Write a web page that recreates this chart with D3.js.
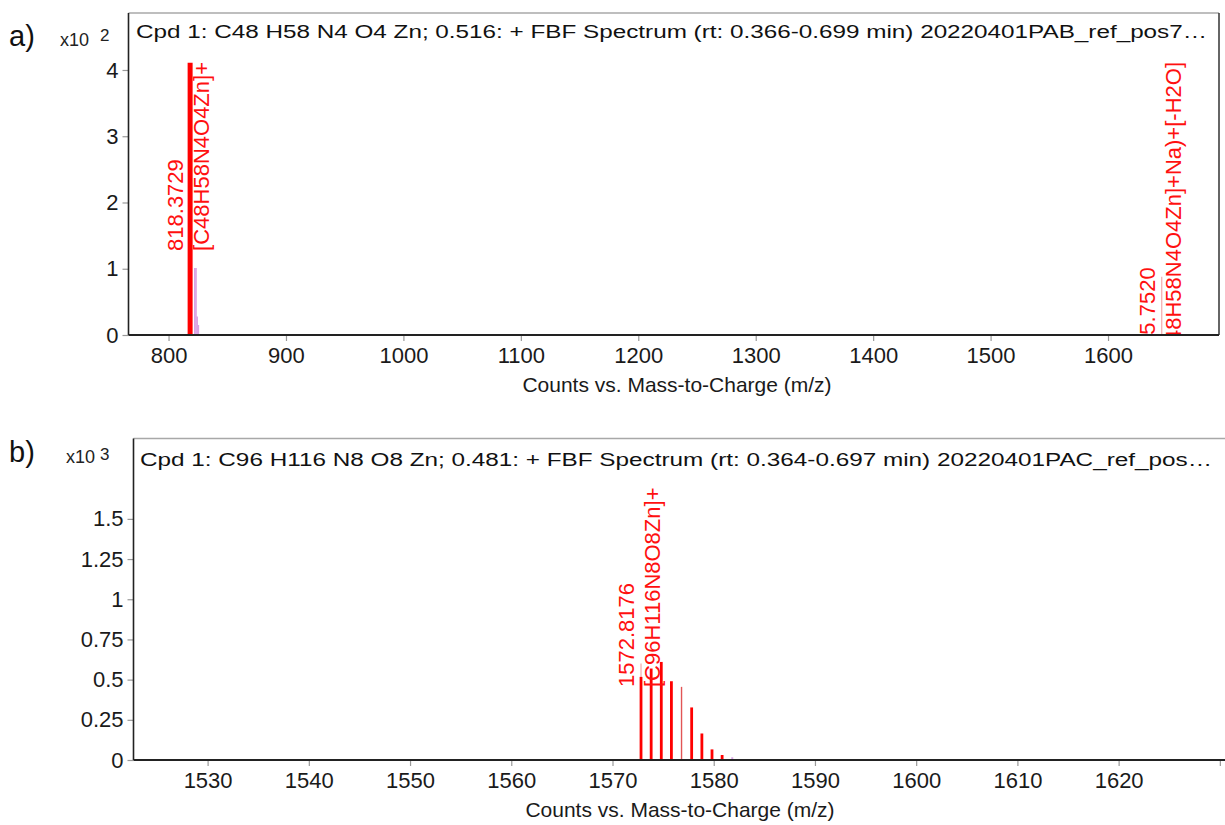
<!DOCTYPE html>
<html><head><meta charset="utf-8">
<script src="https://cdn.jsdelivr.net/npm/d3@7"></script>
<style>
body{margin:0;background:#fff}
svg{display:block}
text{font-family:"Liberation Sans",Arial,sans-serif}
</style>
</head><body>
<svg id="chart" width="1225" height="825"></svg>
<script>
// ---------- Panel a data ----------
const aTitle = "Cpd 1: C48 H58 N4 O4 Zn; 0.516: + FBF Spectrum (rt: 0.366-0.699 min) 20220401PAB_ref_pos7\u2026";
const aXTicks = [800, 900, 1000, 1100, 1200, 1300, 1400, 1500, 1600];
const aXTickLabels = ["800", "900", "1000", "1100", "1200", "1300", "1400", "1500", "1600"];
const aYTicks = [0, 1, 2, 3, 4];
const aYTickLabels = ["0", "1", "2", "3", "4"];
const aObsMz = [818.3729];
const aObsInt = [4.11];
const aIsoMz = [822.37, 823.37, 824.37, 825.37];
const aIsoInt = [1.01, 1.01, 0.28, 0.15];
const aLeadMz = [1645.752];
const aLeadInt = [0.88];
const aMinorMz = [];
const aMinorInt = [];
const aLabelMz = [818.3729, 1645.752];
const aLabelMass = ["818.3729", "1645.7520"];
const aLabelFormula = ["[C48H58N4O4Zn]+", "([C48H58N4O4Zn]+Na)+[-H2O]"];

// ---------- Panel b data ----------
const bTitle = "Cpd 1: C96 H116 N8 O8 Zn; 0.481: + FBF Spectrum (rt: 0.364-0.697 min) 20220401PAC_ref_pos\u2026";
const bXTicks = [1530, 1540, 1550, 1560, 1570, 1580, 1590, 1600, 1610, 1620, 1630];
const bXTickLabels = ["1530", "1540", "1550", "1560", "1570", "1580", "1590", "1600", "1610", "1620", ""];
const bYTicks = [0, 0.25, 0.5, 0.75, 1, 1.25, 1.5];
const bYTickLabels = ["0", "0.25", "0.5", "0.75", "1", "1.25", "1.5"];
const bObsMz = [1572.8176, 1573.82, 1574.82, 1575.82, 1577.82, 1578.83, 1579.83, 1580.83];
const bObsInt = [0.517, 0.569, 0.61, 0.49, 0.327, 0.165, 0.066, 0.031];
const bMinorMz = [1576.82];
const bMinorInt = [0.455];
const bIsoMz = [1581.83];
const bIsoInt = [0.017];
const bLeadMz = [1572.8176];
const bLeadInt = [0.6];
const bLabelMz = [1572.8176];
const bLabelMass = ["1572.8176"];
const bLabelFormula = ["[C96H116N8O8Zn]+"];

const axisTitle = "Counts vs. Mass-to-Charge (m/z)";

const svg = d3.select("#chart");

function zip(a, b) { return a.map((v, i) => ({ mz: v, v: b[i] })); }

function drawPanel(cfg) {
  const { L, T, R, B } = cfg.box;
  const x = d3.scaleLinear().domain(cfg.xDomain).range([L, R]);
  const y = d3.scaleLinear().domain(cfg.yDomain).range([B, T]);
  const g = svg.append("g");

  const clipId = "clip-" + cfg.id;
  svg.append("defs").append("clipPath").attr("id", clipId)
    .append("rect").attr("x", L).attr("y", T).attr("width", R - L).attr("height", B - T);

  // panel letter
  g.append("text").attr("x", cfg.letterPos[0]).attr("y", cfg.letterPos[1])
    .attr("font-size", 29).attr("fill", "#111").text(cfg.letter);
  // multiplier
  g.append("text").attr("x", cfg.multPos[0]).attr("y", cfg.multPos[1])
    .attr("font-size", 18).attr("fill", "#222").text("x10");
  g.append("text").attr("x", cfg.expPos[0]).attr("y", cfg.expPos[1])
    .attr("font-size", 17).attr("fill", "#222").text(cfg.exp);

  // title
  g.append("text").attr("x", cfg.titlePos[0]).attr("y", cfg.titlePos[1])
    .attr("font-size", 18).attr("fill", "#111")
    .attr("textLength", cfg.titleWidth).attr("lengthAdjust", "spacingAndGlyphs")
    .text(cfg.title);

  // axes
  const xAxis = d3.axisBottom(x).tickValues(cfg.xTicks)
    .tickFormat((d, i) => cfg.xTickLabels[i]).tickSize(6).tickPadding(5);
  const gx = g.append("g").attr("transform", `translate(0,${B})`).call(xAxis);
  gx.select(".domain").remove();
  gx.selectAll(".tick line").attr("stroke", "#999").attr("stroke-width", 1.2);
  gx.selectAll(".tick text").attr("font-size", 22).attr("fill", "#1a1a1a")
    .attr("font-family", "Liberation Sans, Arial, sans-serif").attr("dy", "0.78em");

  const yAxis = d3.axisLeft(y).tickValues(cfg.yTicks)
    .tickFormat((d, i) => cfg.yTickLabels[i]).tickSize(6).tickPadding(4);
  const gy = g.append("g").attr("transform", `translate(${L},0)`).call(yAxis);
  gy.select(".domain").remove();
  gy.selectAll(".tick line").attr("stroke", "#999").attr("stroke-width", 1.2);
  gy.selectAll(".tick text").attr("font-size", 22).attr("fill", "#1a1a1a")
    .attr("font-family", "Liberation Sans, Arial, sans-serif");

  // axis title
  g.append("text").attr("x", cfg.axisTitleX).attr("y", B + 57)
    .attr("text-anchor", "middle").attr("font-size", 21).attr("fill", "#1a1a1a")
    .text(axisTitle);

  // plot content (clipped)
  const pg = g.append("g").attr("clip-path", `url(#${clipId})`);

  const drawSticks = (data, color, width) => {
    pg.selectAll(null).data(data).join("line")
      .attr("x1", d => x(d.mz)).attr("x2", d => x(d.mz))
      .attr("y1", y(0)).attr("y2", d => y(d.v))
      .attr("stroke", color).attr("stroke-width", width);
  };
  drawSticks(zip(cfg.leadMz, cfg.leadInt), "#f3a9a9", 1.2);
  drawSticks(zip(cfg.isoMz, cfg.isoInt), "#d9a3e4", cfg.isoWidth);
  drawSticks(zip(cfg.minorMz, cfg.minorInt), "#e25555", 1.4);
  drawSticks(zip(cfg.obsMz, cfg.obsInt), "#ff0000", cfg.obsWidth);

  // peak labels
  cfg.labelMz.forEach((mz, i) => {
    const px = x(mz);
    const f = pg.append("text").attr("font-size", 22).attr("fill", "#ff1010")
      .text(cfg.labelFormula[i]);
    const len = f.node().getComputedTextLength();
    const y0 = T + 49 + len;
    f.attr("transform", `translate(${px + 19},${y0}) rotate(-90)`);
    pg.append("text").attr("font-size", 22).attr("fill", "#ff1010")
      .attr("transform", `translate(${px - 7},${y0}) rotate(-90)`)
      .text(cfg.labelMass[i]);
  });

  // frame
  g.append("line").attr("x1", L).attr("x2", R).attr("y1", T).attr("y2", T)
    .attr("stroke", "#a8a8a8").attr("stroke-width", 1.5);
  g.append("line").attr("x1", R).attr("x2", R).attr("y1", T).attr("y2", B)
    .attr("stroke", "#333").attr("stroke-width", 1.5);
  g.append("line").attr("x1", L).attr("x2", L).attr("y1", T).attr("y2", B)
    .attr("stroke", "#222").attr("stroke-width", 1.6);
  g.append("line").attr("x1", L).attr("x2", R).attr("y1", B).attr("y2", B)
    .attr("stroke", "#222").attr("stroke-width", 2);
}

drawPanel({
  id: "a", letter: "a)", exp: "2", title: aTitle,
  box: { L: 128.5, T: 13, R: 1219, B: 335 },
  xDomain: [765.9, 1694.5], yDomain: [0, 4.86],
  letterPos: [9, 46], multPos: [60, 46], expPos: [100, 41],
  titlePos: [136, 37.5], titleWidth: 1071, axisTitleX: 677,
  xTicks: aXTicks, xTickLabels: aXTickLabels, yTicks: aYTicks, yTickLabels: aYTickLabels,
  obsMz: aObsMz, obsInt: aObsInt, obsWidth: 5,
  isoMz: aIsoMz, isoInt: aIsoInt, isoWidth: 1.6,
  leadMz: aLeadMz, leadInt: aLeadInt,
  minorMz: aMinorMz, minorInt: aMinorInt,
  labelMz: aLabelMz, labelMass: aLabelMass, labelFormula: aLabelFormula
});

drawPanel({
  id: "b", letter: "b)", exp: "3", title: bTitle,
  box: { L: 133.5, T: 438.5, R: 1232, B: 760 },
  xDomain: [1522.68, 1631.2], yDomain: [0, 2.0],
  letterPos: [9, 462], multPos: [66, 463], expPos: [100, 460],
  titlePos: [140, 466], titleWidth: 1072, axisTitleX: 680,
  xTicks: bXTicks, xTickLabels: bXTickLabels, yTicks: bYTicks, yTickLabels: bYTickLabels,
  obsMz: bObsMz, obsInt: bObsInt, obsWidth: 2.8,
  isoMz: bIsoMz, isoInt: bIsoInt, isoWidth: 2,
  leadMz: bLeadMz, leadInt: bLeadInt,
  minorMz: bMinorMz, minorInt: bMinorInt,
  labelMz: bLabelMz, labelMass: bLabelMass, labelFormula: bLabelFormula
});
</script>
</body></html>
